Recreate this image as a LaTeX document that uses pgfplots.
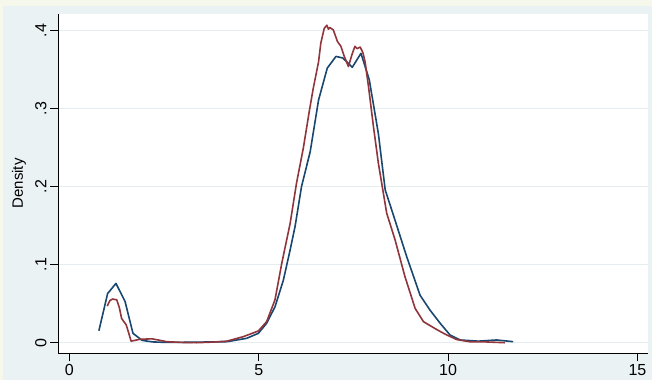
\documentclass[border=0pt]{standalone}
\usepackage{pgfplots}
\pgfplotsset{compat=1.18}
\usepackage{fontspec}
\setmainfont{Liberation Sans}
\definecolor{statabg}{HTML}{EAF2F3}
\definecolor{cream}{HTML}{F7F8EC}
\definecolor{gridc}{HTML}{E4EDEF}
\definecolor{snavy}{HTML}{1A476F}
\definecolor{smaroon}{HTML}{90353B}
\begin{document}
\begin{tikzpicture}[x=1pt,y=1pt]
\fill[cream] (0,0) rectangle (652,380);
\fill[statabg] (3,0) rectangle (652,374);
\begin{axis}[
  at={(58pt,27pt)}, anchor=south west,
  scale only axis, width=590pt, height=339pt,
  xmin=-0.3, xmax=15.28, ymin=-0.0132, ymax=0.4214,
  enlargelimits=false,
  axis x line=bottom, axis y line=left,
  axis line style={-, black, line width=1pt},
  axis background/.style={fill=white},
  xtick={0,5,10,15},
  ytick={0,0.1,0.2,0.3,0.4},
  yticklabels={0,.1,.2,.3,.4},
  tick align=outside, major tick length=8pt,
  tick style={black, line width=0.8pt},
  ymajorgrids, grid style={gridc, line width=1.5pt},
  ticklabel style={font=\fontsize{16}{19}\selectfont},
  /pgf/number format/assume math mode=true,
  yticklabel style={rotate=90, anchor=south, xshift=0pt},
  ylabel={Density},
  ylabel style={font=\fontsize{15}{18}\selectfont, at={(axis description cs:-0.066,0.5)}, anchor=center},
  line join=round,
]
\addplot[snavy, line width=1.6pt, mark=none] coordinates {
(0.78,0.0154) (1.01,0.063) (1.23,0.076) (1.47,0.053) (1.68,0.012) (1.92,0.003)
(2.2,0.001) (2.5,0.0005) (3.0,0.0005) (3.5,0.0008) (4.16,0.0013) (4.68,0.0056)
(4.99,0.012) (5.21,0.025) (5.43,0.046) (5.65,0.080) (5.83,0.119) (5.96,0.149)
(6.13,0.200) (6.36,0.245) (6.58,0.311) (6.81,0.352) (7.04,0.367) (7.22,0.365)
(7.37,0.358) (7.47,0.353) (7.70,0.371) (7.92,0.337) (8.16,0.268) (8.34,0.196)
(8.60,0.157) (8.91,0.110) (9.26,0.061) (9.52,0.042) (9.79,0.025) (10.05,0.010)
(10.32,0.0035) (10.8,0.002) (11.28,0.0035) (11.72,0.0013)
};
\addplot[smaroon, line width=1.6pt, mark=none] coordinates {
(1.00,0.047) (1.07,0.054) (1.14,0.056) (1.25,0.055) (1.32,0.045) (1.38,0.031)
(1.5,0.023) (1.57,0.012) (1.63,0.002) (1.87,0.0044) (2.18,0.005) (2.4,0.003)
(2.57,0.0013) (3.0,0.0003) (3.36,0.0) (3.8,0.0008) (4.16,0.002) (4.59,0.0077)
(4.99,0.015) (5.21,0.027) (5.43,0.055) (5.61,0.102) (5.83,0.153) (6.0,0.205)
(6.18,0.250) (6.34,0.298) (6.44,0.326) (6.58,0.360) (6.64,0.384) (6.73,0.403)
(6.80,0.407) (6.84,0.402) (6.88,0.404) (6.97,0.401) (7.08,0.386) (7.17,0.380)
(7.26,0.367) (7.37,0.354) (7.46,0.369) (7.54,0.380) (7.60,0.377) (7.68,0.379)
(7.75,0.372) (7.81,0.360) (7.90,0.328) (8.03,0.277) (8.16,0.230) (8.38,0.166)
(8.60,0.132) (8.86,0.085) (9.13,0.044) (9.35,0.027) (9.66,0.018) (9.92,0.011)
(10.23,0.004) (10.6,0.001) (11.0,0.001) (11.5,0.0)
};
\end{axis}
\end{tikzpicture}
\end{document}
